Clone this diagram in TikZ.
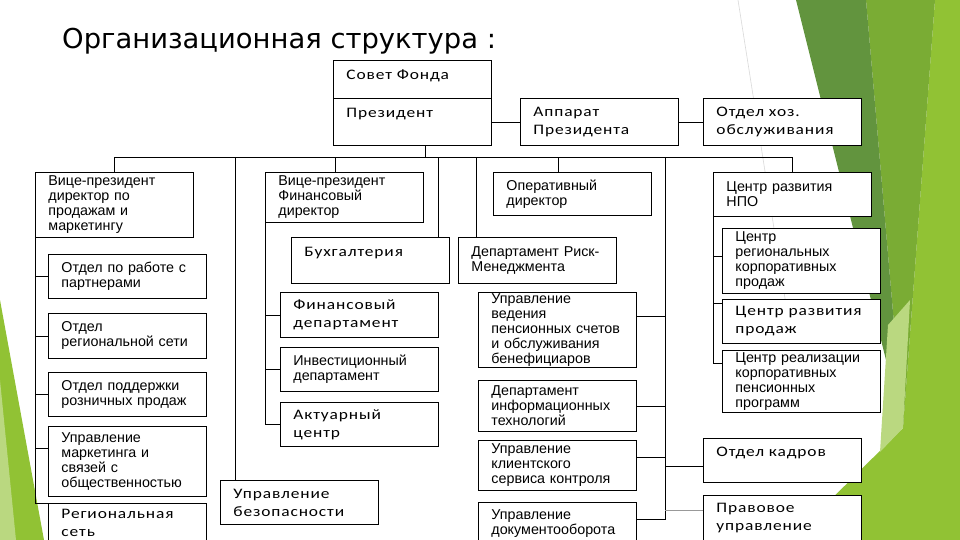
\documentclass[tikz,border=0pt]{standalone}
\usepackage{fontspec}
\setmainfont{Liberation Sans}
\newfontfamily\wideface[FakeStretch=1.2, LetterSpace=6]{Carlito}
\newfontfamily\titleface{DejaVu Sans}
\usetikzlibrary{positioning}
\definecolor{facetdark}{RGB}{98,148,62}
\definecolor{facetmid}{RGB}{122,172,52}
\definecolor{facetlime}{RGB}{145,194,52}
\definecolor{facetpale}{RGB}{186,216,128}

\begin{document}
\begin{tikzpicture}[x=1pt, y=-1pt,
    unit/.style={rectangle, draw=black, line width=0.9pt, fill=white,
                 anchor=north west, align=left, text width=132pt,
                 inner xsep=13pt, inner ysep=0pt,
                 minimum height=#1},
    wide/.style={font=\wideface\fontsize{14.5}{18}\selectfont},
    narrow/.style={font=\fontsize{14.3}{15}\selectfont},
    link/.style={draw=black, line width=0.8pt},
    faint/.style={draw=black!40, line width=0.8pt},
]
\useasboundingbox (0,0) rectangle (960,540);
\fill[white] (0,0) rectangle (960,540);

% ---------- facet background ----------
\fill[facetlime] (935,0) -- (960,0) -- (960,540) -- (790,540) -- (903,428) -- cycle;
\fill[facetmid]  (866,0) -- (935,0) -- (903,428) -- cycle;
\fill[facetdark] (796,0) -- (866,0) -- (903,428) -- cycle;
\fill[facetpale] (888,325) -- (910,300) -- (903,428) -- (880,452) -- cycle;
\draw[black!15, line width=0.6pt] (738,0) -- (790,330);
\fill[facetlime] (0,300) -- (44,540) -- (0,540) -- cycle;
\fill[facetpale] (0,380) -- (16,540) -- (0,540) -- cycle;

% ---------- title ----------
\node[font=\titleface\fontsize{27.4}{32}\selectfont, anchor=base west, inner sep=0pt]
    (title) at (62,49) {Организационная структура :};

% ---------- top ----------
\node[unit=38pt, wide] (sovet) at (333,60) {Совет Фонда\\[-8pt]\mbox{}};
\node[unit=47pt, wide] (prez) at (333,98) {Президент\\\mbox{}};
\node[unit=47pt, wide] (apparat) at (520,98) {Аппарат\\Президента};
\node[unit=47pt, wide] (ohz) at (703,98) {Отдел~хоз.\\обслуживания};

\draw[link] (prez.east) -- (apparat.west);
\draw[link] (apparat.east) -- (ohz.west);

% ---------- sales column ----------
\node[unit=65pt, narrow] (vpsales) at (35,172)
    {Вице-президент\\директор~по\\продажам~и\\маркетингу};
\node[unit=44pt, narrow] (partners) at (48,254) {Отдел~по~работе~с\\партнерами};
\node[unit=45pt, narrow] (regnet) at (48,313) {Отдел\\региональной~сети};
\node[unit=44pt, narrow] (retail) at (48,372) {Отдел~поддержки\\розничных~продаж};
\node[unit=70pt, narrow] (marketing) at (48,426)
    {Управление\\маркетинга~и\\связей~с\\общественностью};
\node[unit=38pt, wide] (regset) at (48,503) {Региональная\\сеть};

% ---------- finance column ----------
\node[unit=50pt, narrow] (vpfin) at (265,172) {Вице-президент\\Финансовый\\директор};
\node[unit=46pt, wide] (buh) at (291,237) {Бухгалтерия\\\mbox{}};
\node[unit=45pt, wide] (findep) at (280,292) {Финансовый\\департамент};
\node[unit=44pt, narrow] (invest) at (280,347) {Инвестиционный\\департамент};
\node[unit=44pt, wide] (actuar) at (280,402) {Актуарный\\центр};
\node[unit=44pt, wide] (bezop) at (220,480) {Управление\\безопасности};

% ---------- operations column ----------
\node[unit=43pt, narrow] (oper) at (493,172) {Оперативный\\директор};
\node[unit=46pt, narrow] (risk) at (458,237) {Департамент~Риск-\\Менеджмента};
\node[unit=75pt, narrow] (vedenie) at (478,292)
    {Управление\\ведения\\пенсионных~счетов\\и~обслуживания\\бенефициаров};
\node[unit=51pt, narrow] (it) at (478,380) {Департамент\\информационных\\технологий};
\node[unit=50pt, narrow] (client) at (478,440) {Управление\\клиентского\\сервиса~контроля};
\node[unit=42pt, narrow] (docs) at (478,502) {Управление\\документооборота};

% ---------- NPO column ----------
\node[unit=44pt, narrow] (npo) at (713,172) {Центр~развития\\НПО};
\node[unit=65pt, narrow] (regcorp) at (722,228)
    {Центр\\региональных\\корпоративных\\продаж};
\node[unit=44pt, wide] (salesdev) at (722,299) {Центр~развития\\продаж};
\node[unit=62pt, narrow] (realiz) at (722,350)
    {Центр~реализации\\корпоративных\\пенсионных\\программ};
\node[unit=44pt, wide] (kadry) at (703,438) {Отдел~кадров\\\mbox{}};
\node[unit=46pt, wide] (pravo) at (703,495) {Правовое\\управление};

% ---------- bus ----------
\coordinate (busY) at (0,157);
\coordinate (spine) at (665,157);
\draw[link] (vpsales.north |- busY) -- (npo.north |- busY);
\draw[link] ([xshift=12.5pt]prez.south) coordinate (p0) -- (p0 |- busY);
\draw[link] (vpsales.north) -- (vpsales.north |- busY);
\draw[link] ([xshift=15pt]bezop.north west) coordinate (b0) -- (b0 |- busY);
\draw[link] ([xshift=-9pt]vpfin.north) coordinate (f0) -- (f0 |- busY);
\draw[link] ([xshift=-12pt]buh.north east) coordinate (h0) -- (h0 |- busY);
\draw[link] ([xshift=18pt]risk.north west) coordinate (r0) -- (r0 |- busY);
\draw[link] ([xshift=-14pt]oper.north) coordinate (o0) -- (o0 |- busY);
\draw[link] (npo.north) -- (npo.north |- busY);

% sales spine
\draw[link] (vpsales.south west) -- (vpsales.south west |- regset.north west) -- (regset.north west);
\draw[link] (partners.west) -- (partners.west -| vpsales.south west);
\draw[link] (regnet.west) -- (regnet.west -| vpsales.south west);
\draw[link] (retail.west) -- (retail.west -| vpsales.south west);
\draw[link] ([yshift=13pt]marketing.west) coordinate (m0) -- (m0 -| vpsales.south west);

% finance spine
\draw[link] (vpfin.south west) -- (vpfin.south west |- actuar.west) -- (actuar.west);
\draw[link] (findep.west) -- (findep.west -| vpfin.south west);
\draw[link] (invest.west) -- (invest.west -| vpfin.south west);

% operations spine
\draw[link] ([yshift=4pt]docs.east) coordinate (d0) -- (d0 -| spine) -- (spine);
\draw[link] ([yshift=14pt]vedenie.east) coordinate (v0) -- (v0 -| spine);
\draw[link] (it.east) -- (it.east -| spine);
\draw[link] ([yshift=8pt]client.east) coordinate (c0) -- (c0 -| spine);
\draw[link] ([yshift=-6pt]kadry.west) coordinate (k0) -- (k0 -| spine);
\draw[faint] ([yshift=8pt]pravo.west) coordinate (q0) -- (q0 -| spine);

% NPO spine
\draw[link] ([yshift=-13pt]realiz.north west) coordinate (z0) -- (z0 -| npo.south west) -- (npo.south west);
\draw[link] ([yshift=5pt]regcorp.west) coordinate (g0) -- (g0 -| npo.south west);
\draw[link] ([yshift=-4pt]salesdev.north west) coordinate (s0) -- (s0 -| npo.south west);

\end{tikzpicture}
\end{document}
